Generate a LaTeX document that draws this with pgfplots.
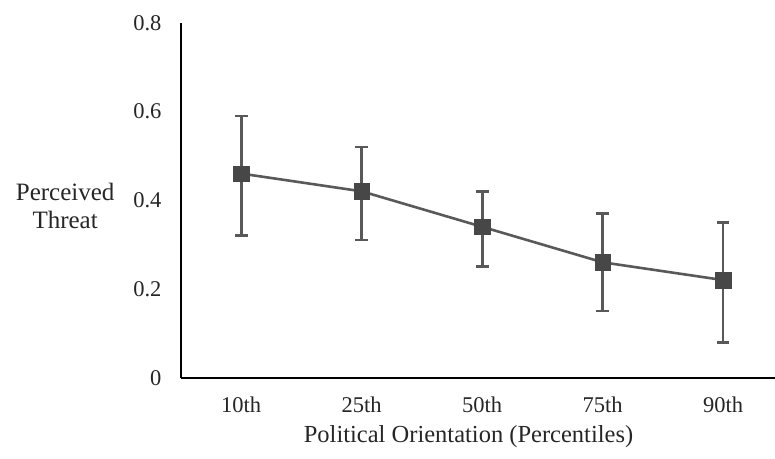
\documentclass[border=0pt]{standalone}
\usepackage{fontspec}
\setmainfont{Liberation Serif}
\usepackage{pgfplots}
\pgfplotsset{compat=1.18}
\definecolor{linec}{HTML}{595959}
\definecolor{markc}{HTML}{474747}
\begin{document}
\begin{tikzpicture}
\useasboundingbox (0,0) rectangle (775bp,459bp);
\begin{axis}[
  at={(181bp,81.3bp)}, anchor=south west,
  scale only axis, width=594bp, height=355bp,
  xmin=-0.5, xmax=4.43, ymin=0, ymax=0.8,
  axis x line*=bottom, axis y line*=left,
  axis line style={-, black, line width=1.9bp},
  xtick={0,1,2,3,4}, xticklabels={10th,25th,50th,75th,90th},
  ytick={0,0.2,0.4,0.6,0.8},
  yticklabels={0,0.2,0.4,0.6,0.8},
  major tick length=0pt,
  /pgf/number format/assume math mode=true,
  tick label style={font=\fontsize{22.5bp}{26bp}\selectfont, text=black!85},
  yticklabel style={xshift=-16bp},
  xticklabel style={yshift=-16bp},
  xlabel={Political Orientation (Percentiles)},
  xlabel style={font=\fontsize{24.5bp}{28bp}\selectfont, text=black!85, at={(axis description cs:0.484,-0.167)}, anchor=center},
  ylabel={Perceived\\Threat},
  ylabel style={font=\fontsize{25bp}{28bp}\selectfont, text=black!85, rotate=-90, align=center, at={(axis description cs:-0.195,0.484)}, anchor=center},
  clip=false,
]
\addplot[color=linec, line width=2.6bp, mark=square*, mark size=7.8bp,
  mark options={fill=markc, draw=markc, line width=0.5bp},
  error bars/.cd, y dir=both, y explicit,
  error bar style={line width=2.6bp, color=linec},
  error mark options={rotate=90, mark size=6.3bp, line width=2.6bp, color=linec}]
  table[x=x, y=y, y error plus=ep, y error minus=em] {
  x y ep em
  0 0.46 0.13 0.14
  1 0.42 0.10 0.11
  2 0.34 0.08 0.09
  3 0.26 0.11 0.11
  4 0.22 0.13 0.14
};
\end{axis}
\end{tikzpicture}
\end{document}
